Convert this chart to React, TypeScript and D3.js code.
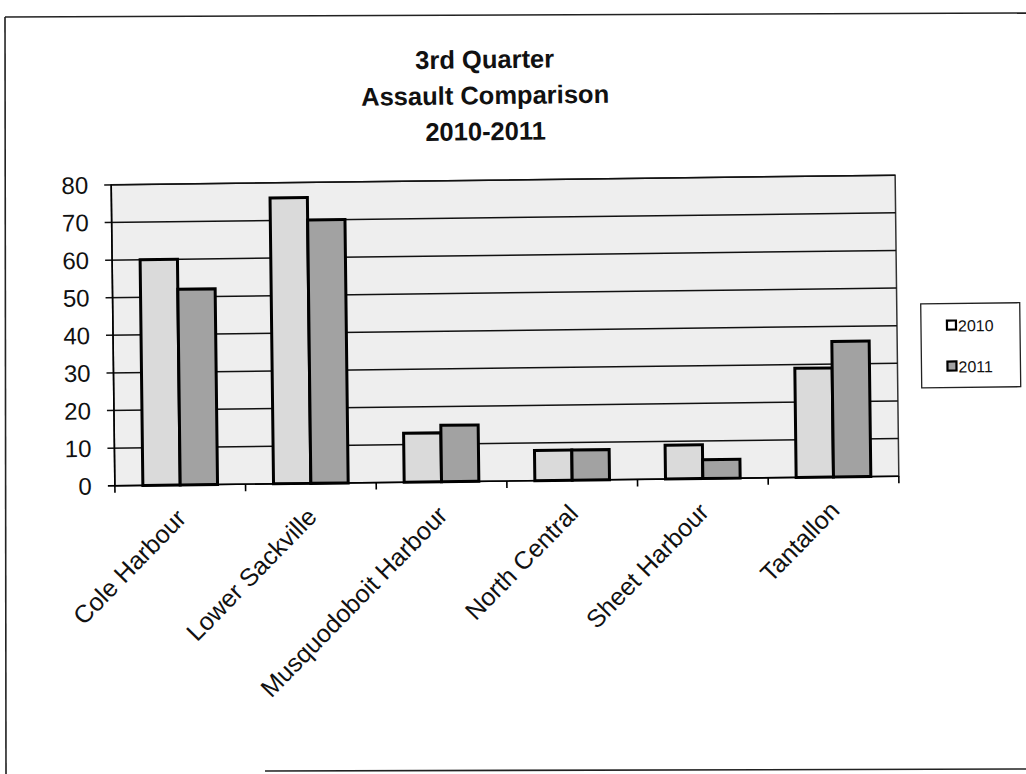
import React from "react";
import * as d3 from "d3";

const categories = [
  "Cole Harbour",
  "Lower Sackville",
  "Musquodoboit Harbour",
  "North Central",
  "Sheet Harbour",
  "Tantallon",
];
const values2010 = [60, 76, 13, 8, 9, 29];
const values2011 = [52, 70, 15, 8, 5, 36];
const seriesNames = ["2010", "2011"];
const yTicks = [0, 10, 20, 30, 40, 50, 60, 70, 80];
const titleLines = ["3rd Quarter", "Assault Comparison", "2010-2011"];

const W = 1026;
const H = 774;
const FONT = "'Liberation Sans', Arial, sans-serif";
const fills = ["#dadada", "#a2a2a2"];

export default function App() {
  const plot = { left: 113, right: 897, top: 180, bottom: 481 };
  const x = d3
    .scaleBand<string>()
    .domain(categories)
    .range([plot.left, plot.right])
    .paddingInner(0)
    .paddingOuter(0);
  const y = d3.scaleLinear().domain([0, 80]).range([plot.bottom, plot.top]);
  const band = x.bandwidth();
  const barW = band / 3.5;
  const seriesData = [values2010, values2011];
  const boundaries = d3.range(categories.length + 1).map((i) => plot.left + i * band);

  return (
    <svg
      width={W}
      height={H}
      style={{ position: "absolute", left: 0, top: 0, background: "#fff" }}
    >
      {/* outer chart border (scanned, partial) */}
      <g stroke="#222" strokeWidth={1.6} fill="none">
        <line x1={5} y1={17} x2={1026} y2={13} />
        <line x1={5} y1={17} x2={6} y2={774} />
        <line x1={265} y1={771} x2={1026} y2={769} />
      </g>
      <g transform="rotate(-0.7, 505, 330)" fontFamily={FONT}>
        {/* title */}
        <g fontWeight="bold" fontSize={25.5} textAnchor="middle" fill="#111">
          {titleLines.map((t, i) => (
            <text key={t} x={488} y={68 + i * 36}>
              {t}
            </text>
          ))}
        </g>
        {/* plot background */}
        <rect
          x={plot.left}
          y={plot.top}
          width={plot.right - plot.left}
          height={plot.bottom - plot.top}
          fill="#eeeeee"
          stroke="#333"
          strokeWidth={1.5}
        />
        {/* gridlines */}
        <g stroke="#111" strokeWidth={1.5}>
          {yTicks.slice(1).map((t) => (
            <line key={t} x1={plot.left - 7} x2={plot.right} y1={y(t)} y2={y(t)} />
          ))}
        </g>
        {/* bars */}
        {seriesData.map((vals, s) => (
          <g key={seriesNames[s]}>
            {vals.map((v, i) => {
              const cx = (x(categories[i]) as number) + band / 2;
              const x0 = cx - barW + s * barW;
              return (
                <rect
                  key={categories[i]}
                  x={x0}
                  y={y(v)}
                  width={barW}
                  height={y(0) - y(v)}
                  fill={fills[s]}
                  stroke="#000"
                  strokeWidth={3}
                />
              );
            })}
          </g>
        ))}
        {/* axes */}
        <g stroke="#000" strokeWidth={1.6}>
          <line x1={plot.left} x2={plot.left} y1={plot.top} y2={plot.bottom} />
          <line x1={plot.left - 7} x2={plot.right} y1={plot.bottom} y2={plot.bottom} />
          {boundaries.map((bx, i) => (
            <line key={i} x1={bx} x2={bx} y1={plot.bottom} y2={plot.bottom + 7} />
          ))}
        </g>
        {/* y tick labels */}
        <g fontSize={24} textAnchor="end" fill="#111">
          {yTicks.map((t) => (
            <text key={t} x={90} y={y(t) + 8.5}>
              {t}
            </text>
          ))}
        </g>
        {/* x tick labels */}
        <g fontSize={25} textAnchor="end" fill="#111">
          {categories.map((c) => {
            const cx = (x(c) as number) + band / 2;
            return (
              <text key={c} transform={`translate(${cx + 7}, ${plot.bottom + 35}) rotate(-45)`}>
                {c}
              </text>
            );
          })}
        </g>
        {/* legend */}
        <rect x={921} y={309} width={99} height={84} fill="#fff" stroke="#222" strokeWidth={1.3} />
        {seriesNames.map((n, i) => (
          <g key={n} transform={`translate(0, ${331 + i * 41})`}>
            <rect x={947} y={-5} width={9} height={9} fill={i === 0 ? "#fff" : fills[1]} stroke="#000" strokeWidth={2.2} />
            <text x={958} y={6} fontSize={16} fill="#111">
              {n}
            </text>
          </g>
        ))}
      </g>
    </svg>
  );
}
